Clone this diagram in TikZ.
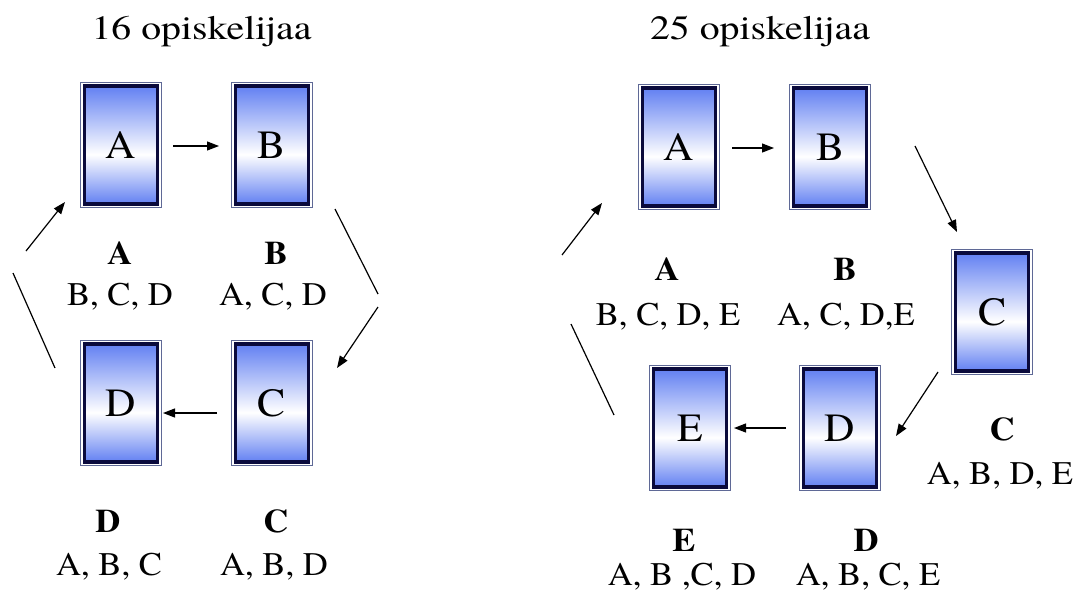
\documentclass[tikz,border=0pt]{standalone}
\usepackage{fontspec}
\usepackage{graphicx}
\setmainfont{TeX Gyre Termes}
\usetikzlibrary{arrows.meta}
\definecolor{bframe}{RGB}{10,10,60}
\definecolor{bouter}{RGB}{95,105,150}
\definecolor{bblue}{RGB}{98,128,242}
\pgfdeclareverticalshading{boxshade}{100bp}{color(0bp)=(bblue); color(25bp)=(bblue); color(46bp)=(white); color(75bp)=(bblue); color(100bp)=(bblue)}
\tikzset{
 card/.style={draw=bframe, line width=3.2pt, shading=boxshade, minimum width=73pt, minimum height=118pt, inner sep=0pt, outer sep=0pt, font=\fontsize{40}{48}\selectfont},
 cardouter/.style={draw=bouter, line width=1pt},
 arr/.style={line width=1.2pt, -{Triangle[length=12pt,width=9pt]}},
 seg/.style={line width=1.2pt},
 ttl/.style={anchor=base, inner sep=0pt, font=\fontsize{34}{40}\selectfont},
 lbl/.style={anchor=base, inner sep=0pt, font=\fontsize{33}{40}\selectfont},
}
\newcommand\cardframe[1]{\draw[cardouter] ([shift={(-3.6pt,3.6pt)}]#1.north west) rectangle ([shift={(3.6pt,-3.6pt)}]#1.south east);}
\newcommand\wtxt[1]{\scalebox{1.05}[1]{#1}}
\begin{document}
\begin{tikzpicture}[x=1pt,y=-1pt]
\useasboundingbox[fill=white] (0,0) rectangle (1081,592);
% titles
\node[ttl] (t1) at (201.5,39) {\scalebox{1.17}[1]{16 opiskelijaa}};
\node[ttl] (t2) at (760,39) {\scalebox{1.17}[1]{25 opiskelijaa}};
% left boxes
\node[card] (lA) at (121,145) {\wtxt{A}};
\node[card] (lB) at (272,145) {\wtxt{B}};
\node[card] (lC) at (272,403) {\wtxt{C}};
\node[card] (lD) at (121,403) {\wtxt{D}};
\cardframe{lA}\cardframe{lB}\cardframe{lC}\cardframe{lD}
% right boxes
\node[card] (rA) at (679,147) {\wtxt{A}};
\node[card] (rB) at (830,147) {\wtxt{B}};
\node[card] (rC) at (992,312) {\wtxt{C}};
\node[card] (rD) at (840,428) {\raisebox{-10pt}{\wtxt{D}}};
\node[card] (rE) at (690,428) {\raisebox{-10pt}{\wtxt{E}}};
\cardframe{rA}\cardframe{rB}\cardframe{rC}\cardframe{rD}\cardframe{rE}
% left labels
\node[lbl] (lAh) at (120,264) {\wtxt{\bfseries A}};
\node[lbl] (lAl) at (120,305) {\wtxt{B, C, D}};
\node[lbl] (lBh) at (276,264) {\wtxt{\bfseries B}};
\node[lbl] (lBl) at (273,305) {\wtxt{A, C, D}};
\node[lbl] (lDh) at (108,532) {\wtxt{\bfseries D}};
\node[lbl] (lDl) at (109,575) {\wtxt{A, B, C}};
\node[lbl] (lCh) at (276,532) {\wtxt{\bfseries C}};
\node[lbl] (lCl) at (274,575) {\wtxt{A, B, D}};
% right labels
\node[lbl] (rAh) at (667,280) {\wtxt{\bfseries A}};
\node[lbl] (rAl) at (668,325) {\wtxt{B, C, D, E}};
\node[lbl] (rBh) at (845,280) {\wtxt{\bfseries B}};
\node[lbl] (rBl) at (846,325) {\wtxt{A, C, D,E}};
\node[lbl] (rCh) at (1002,440) {\wtxt{\bfseries C}};
\node[lbl] (rCl) at (1000,484) {\wtxt{A, B, D, E}};
\node[lbl] (rEh) at (684,551) {\wtxt{\bfseries E}};
\node[lbl] (rEl) at (682,585) {\wtxt{A, B ,C, D}};
\node[lbl] (rDh) at (866,551) {\wtxt{\bfseries D}};
\node[lbl] (rDl) at (868,585) {\wtxt{A, B, C, E}};
% left connectors
\draw[arr, shorten <=15.5pt, shorten >=16.5pt] ([yshift=-1pt]lA.east) -- ([yshift=-1pt]lB.west);
\coordinate (lr1) at (335,209);
\coordinate (lr2) at (378,294);
\coordinate (lr3) at (378,307);
\coordinate (lr4) at (337,368);
\draw[seg] (lr1) -- (lr2);
\draw[arr] (lr3) -- (lr4);
\draw[arr, shorten <=18.5pt, shorten >=5.5pt] ([yshift=-10pt]lC.west) -- ([yshift=-10pt]lD.east);
\coordinate (ll1) at (55,368);
\coordinate (ll2) at (13,273);
\coordinate (ll3) at (26,251);
\coordinate (ll4) at (65,202);
\draw[seg] (ll1) -- (ll2);
\draw[arr] (ll3) -- (ll4);
% right connectors
\draw[arr, shorten <=16.5pt, shorten >=19.5pt] ([yshift=-1pt]rA.east) -- ([yshift=-1pt]rB.west);
\coordinate (rb1) at (915,146);
\coordinate (rb2) at (957,232);
\draw[arr] (rb1) -- (rb2);
\coordinate (rc1) at (938,372);
\coordinate (rc2) at (896,436);
\draw[arr] (rc1) -- (rc2);
\draw[arr, shorten <=17.5pt, shorten >=7.5pt] (rD.west) -- (rE.east);
\coordinate (rl1) at (614,415);
\coordinate (rl2) at (571,324);
\coordinate (rl3) at (562,255);
\coordinate (rl4) at (602,203);
\draw[seg] (rl1) -- (rl2);
\draw[arr] (rl3) -- (rl4);
\end{tikzpicture}
\end{document}
